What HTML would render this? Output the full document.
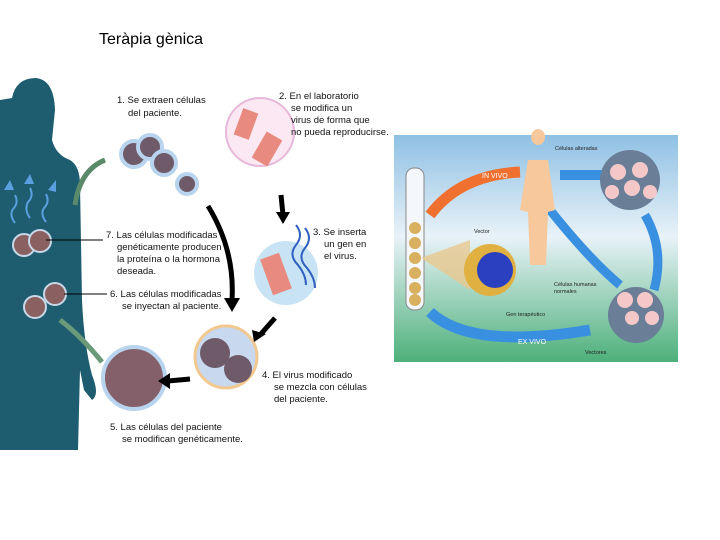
<!DOCTYPE html>
<html><head><meta charset="utf-8"><style>
body{margin:0;width:720px;height:540px;background:#fff;overflow:hidden;font-family:"Liberation Sans",sans-serif}
.t{position:absolute;left:99px;top:31px;font-size:16px;color:#000}
svg{position:absolute;left:0;top:0}
</style></head><body>
<div class="t">Teràpia gènica</div>
<svg width="720" height="540" viewBox="0 0 720 540" font-family="Liberation Sans, sans-serif">
<defs>
<linearGradient id="bg" x1="0" y1="0" x2="0" y2="1">
<stop offset="0" stop-color="#8fc0e4"/><stop offset="0.45" stop-color="#e8f2f8"/><stop offset="1" stop-color="#4db07a"/></linearGradient>
</defs>
<!-- body silhouette -->
<path d="M0,100 L12,98 Q16,78 36,78 Q54,80 55,110 L52,140 Q56,155 70,160 Q80,166 80,185 L82,300 Q84,345 92,375 Q100,395 92,400 L84,390 L80,370 L78,450 L0,450 Z" fill="#1e5c70"/>
<g fill="#8a6060" stroke="#c8d8e8" stroke-width="2">
<circle cx="24" cy="245" r="11"/><circle cx="40" cy="241" r="11"/>
<circle cx="35" cy="307" r="11"/><circle cx="55" cy="294" r="11"/></g>
<g fill="#5aa0e0"><path d="M4,190 l6,-10 l4,10z"/><path d="M24,184 l6,-10 l4,10z"/><path d="M48,190 l8,-10 l0,12z"/></g>
<g stroke="#5aa0e0" stroke-width="2" fill="none"><path d="M15,195 q4,8 -2,14 q-4,6 2,14"/><path d="M30,188 q4,8 -2,14 q-4,8 2,16"/><path d="M46,194 q4,8 -2,14 q-4,6 2,14"/></g>
<path d="M75,205 Q80,170 105,160" stroke="#5a8a6a" stroke-width="5" fill="none"/>
<path d="M102,362 Q80,335 60,320" stroke="#6a9a7a" stroke-width="5" fill="none"/>
<!-- cells step1 -->
<g fill="#6e5a68" stroke="#b8d4ee" stroke-width="4">
<circle cx="134" cy="154" r="13"/><circle cx="150" cy="147" r="12"/><circle cx="164" cy="163" r="12"/><circle cx="187" cy="184" r="10"/></g>
<!-- step2 circle -->
<circle cx="260" cy="132" r="34" fill="#fbe8f2" stroke="#e8b8dc" stroke-width="2"/>
<rect x="238" y="110" width="16" height="28" fill="#e88a80" transform="rotate(20 246 124)"/>
<rect x="258" y="134" width="18" height="30" fill="#e88a80" transform="rotate(30 267 149)"/>
<!-- step3 -->
<circle cx="286" cy="273" r="32" fill="#c8e4f4"/>
<rect x="266" y="255" width="20" height="38" fill="#e88a80" transform="rotate(-20 276 274)"/>
<g stroke="#3060c0" stroke-width="2" fill="none"><path d="M296,225 q8,10 0,20 q-8,10 2,20 q8,10 8,20"/><path d="M305,228 q8,10 0,20 q-8,10 2,20 q8,10 8,20"/></g>
<!-- step4 -->
<circle cx="226" cy="357" r="31" fill="#c8d8ee" stroke="#f0c890" stroke-width="3"/>
<circle cx="215" cy="353" r="15" fill="#6e5a68"/><circle cx="238" cy="369" r="14" fill="#6e5a68"/>
<!-- step5 -->
<circle cx="134" cy="378" r="31" fill="#84606a" stroke="#b8d4ee" stroke-width="4"/>
<!-- black arrows -->
<g stroke="#000" stroke-width="5" fill="none"><path d="M208,206 Q235,250 232,300"/><path d="M281,195 L283,215"/><path d="M275,318 L260,335"/><path d="M190,379 L168,381"/></g>
<g fill="#000"><path d="M224,298 l16,0 l-8,14z"/><path d="M276,212 l14,0 l-7,12z"/><path d="M252,330 l14,4 l-12,8z"/><path d="M170,373 l0,16 l-12,-8z"/></g>
<!-- leader lines -->
<g stroke="#000" stroke-width="1"><line x1="46" y1="240" x2="103" y2="240"/><line x1="64" y1="294" x2="107" y2="294"/></g>
<g font-size="9.5" fill="#111">
<text x="117" y="103">1. Se extraen células</text><text x="128" y="116">del paciente.</text>
<text x="279" y="99">2. En el laboratorio</text><text x="291" y="111">se modifica un</text><text x="291" y="123">virus de forma que</text><text x="291" y="135">no pueda reproducirse.</text>
<text x="313" y="235">3. Se inserta</text><text x="324" y="247">un gen en</text><text x="324" y="259">el virus.</text>
<text x="106" y="238">7. Las células modificadas</text><text x="117" y="250">genéticamente producen</text><text x="117" y="262">la proteína o la hormona</text><text x="117" y="274">deseada.</text>
<text x="110" y="297">6. Las células modificadas</text><text x="122" y="309">se inyectan al paciente.</text>
<text x="262" y="378">4. El virus modificado</text><text x="274" y="390">se mezcla con células</text><text x="274" y="402">del paciente.</text>
<text x="110" y="430">5. Las células del paciente</text><text x="122" y="442">se modifican genéticamente.</text>
</g>
<!-- right panel -->
<rect x="394" y="135" width="284" height="227" fill="url(#bg)"/>
<rect x="406" y="168" width="18" height="142" rx="8" fill="#f4f8fc" stroke="#888"/>
<g fill="#d8b060"><circle cx="415" cy="228" r="6"/><circle cx="415" cy="243" r="6"/><circle cx="415" cy="258" r="6"/><circle cx="415" cy="273" r="6"/><circle cx="415" cy="288" r="6"/><circle cx="415" cy="300" r="6"/></g>
<path d="M421,258 L470,240 L470,290 Z" fill="#e8c890" opacity="0.8"/>
<circle cx="490" cy="270" r="26" fill="#e0b040"/>
<circle cx="495" cy="270" r="18" fill="#2a40c0"/>
<path d="M430,215 Q460,175 520,172" stroke="#f07030" stroke-width="11" fill="none"/>
<text x="482" y="178" font-size="7" fill="#fff">IN VIVO</text>
<path d="M430,312 Q470,350 590,330" stroke="#3a90e0" stroke-width="11" fill="none"/>
<text x="518" y="344" font-size="7" fill="#fff">EX VIVO</text>
<path d="M560,175 L605,175" stroke="#3a90e0" stroke-width="10"/>
<path d="M550,210 Q590,260 620,285" stroke="#3a90e0" stroke-width="9" fill="none"/>
<path d="M654,290 Q665,250 645,215" stroke="#3a90e0" stroke-width="9" fill="none"/>
<path d="M538,145 a7,8 0 1 1 0.1,0 M528,160 L548,160 L555,210 L548,212 L546,265 L530,265 L528,212 L520,210 Z" fill="#f6c89c"/>
<circle cx="630" cy="180" r="30" fill="#6a7e98"/>
<g fill="#f4c8c8"><circle cx="618" cy="172" r="8"/><circle cx="640" cy="170" r="8"/><circle cx="632" cy="188" r="8"/><circle cx="612" cy="192" r="7"/><circle cx="650" cy="192" r="7"/></g>
<circle cx="636" cy="315" r="28" fill="#6a7e98"/>
<g fill="#f4c8c8"><circle cx="625" cy="300" r="8"/><circle cx="645" cy="300" r="8"/><circle cx="652" cy="318" r="7"/><circle cx="632" cy="318" r="7"/></g>
<g font-size="5.5" fill="#222"><text x="555" y="150">Células alteradas</text><text x="474" y="233">Vector</text><text x="554" y="286">Células humanas</text><text x="554" y="293">normales</text><text x="506" y="316">Gen terapéutico</text><text x="585" y="354">Vectores</text></g>
</svg>
</body></html>
